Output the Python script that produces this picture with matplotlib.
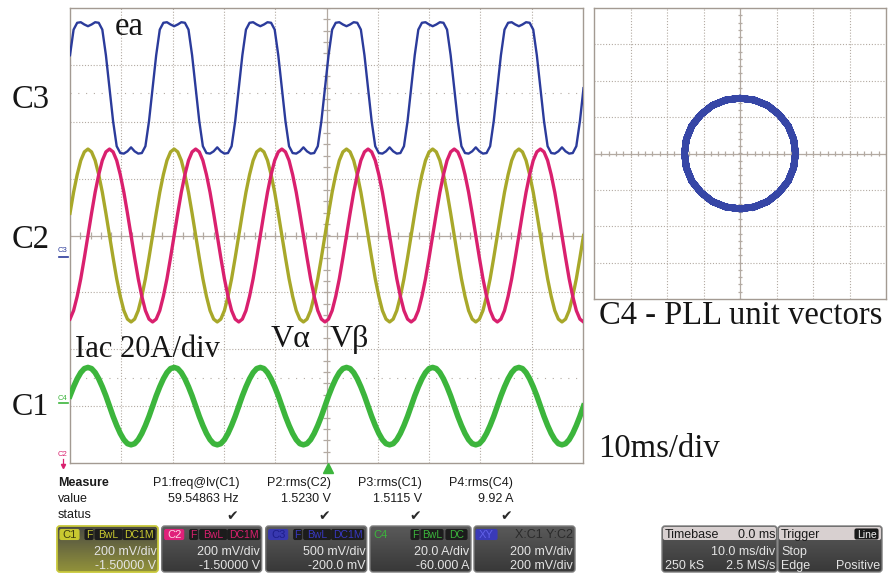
import numpy as np
import matplotlib
matplotlib.use("Agg")
import matplotlib.pyplot as plt
from matplotlib.patches import FancyBboxPatch
from matplotlib.colors import LinearSegmentedColormap

# ---------------- data (screen divisions, sampled every 0.7 ms) ----------------
SAMPLE_MS = 0.7
ea_div = [
    3.17, 3.62, 3.74, 3.75, 3.71, 3.68, 3.71, 3.75, 3.74, 3.62, 3.17, 2.59, 2.01, 1.57, 1.45, 1.44, 1.48, 1.55, 1.48, 1.44, 1.45, 1.57, 2.01, 2.59,
    3.17, 3.62, 3.74, 3.75, 3.71, 3.68, 3.71, 3.75, 3.74, 3.62, 3.17, 2.59, 2.01, 1.57, 1.45, 1.44, 1.48, 1.55, 1.48, 1.44, 1.45, 1.57, 2.01, 2.59,
    3.17, 3.62, 3.74, 3.75, 3.71, 3.68, 3.71, 3.75, 3.74, 3.62, 3.17, 2.59, 2.01, 1.57, 1.45, 1.44, 1.48, 1.55, 1.48, 1.44, 1.45, 1.57, 2.01, 2.59,
    3.17, 3.62, 3.74, 3.75, 3.71, 3.68, 3.71, 3.75, 3.74, 3.62, 3.17, 2.59, 2.01, 1.57, 1.45, 1.44, 1.48, 1.55, 1.48, 1.44, 1.45, 1.57, 2.01, 2.59,
    3.17, 3.62, 3.74, 3.75, 3.71, 3.68, 3.71, 3.75, 3.74, 3.62, 3.17, 2.59, 2.01, 1.57, 1.45, 1.44, 1.48, 1.55, 1.48, 1.44, 1.45, 1.57, 2.01, 2.59,
    3.17, 3.62, 3.74, 3.75, 3.71, 3.68, 3.71, 3.75, 3.74, 3.62, 3.17, 2.59, 2.01, 1.57, 1.45, 1.44, 1.48, 1.55, 1.48, 1.44, 1.45, 1.57, 2.01, 2.59,
]
valpha_div = [
    0.39, 0.76, 1.07, 1.32, 1.47, 1.52, 1.47, 1.32, 1.07, 0.76, 0.39, 0.00, -0.39, -0.76, -1.07, -1.32, -1.47, -1.52, -1.47, -1.32, -1.07, -0.76, -0.39, 0.00,
    0.39, 0.76, 1.07, 1.32, 1.47, 1.52, 1.47, 1.32, 1.07, 0.76, 0.39, 0.00, -0.39, -0.76, -1.07, -1.32, -1.47, -1.52, -1.47, -1.32, -1.07, -0.76, -0.39, 0.00,
    0.39, 0.76, 1.07, 1.32, 1.47, 1.52, 1.47, 1.32, 1.07, 0.76, 0.39, 0.00, -0.39, -0.76, -1.07, -1.32, -1.47, -1.52, -1.47, -1.32, -1.07, -0.76, -0.39, 0.00,
    0.39, 0.76, 1.07, 1.32, 1.47, 1.52, 1.47, 1.32, 1.07, 0.76, 0.39, 0.00, -0.39, -0.76, -1.07, -1.32, -1.47, -1.52, -1.47, -1.32, -1.07, -0.76, -0.39, 0.00,
    0.39, 0.76, 1.07, 1.32, 1.47, 1.52, 1.47, 1.32, 1.07, 0.76, 0.39, 0.00, -0.39, -0.76, -1.07, -1.32, -1.47, -1.52, -1.47, -1.32, -1.07, -0.76, -0.39, 0.00,
    0.39, 0.76, 1.07, 1.32, 1.47, 1.52, 1.47, 1.32, 1.07, 0.76, 0.39, 0.00, -0.39, -0.76, -1.07, -1.32, -1.47, -1.52, -1.47, -1.32, -1.07, -0.76, -0.39, 0.00,
]
vbeta_div = [
    -1.47, -1.32, -1.07, -0.76, -0.39, 0.00, 0.39, 0.76, 1.07, 1.32, 1.47, 1.52, 1.47, 1.32, 1.07, 0.76, 0.39, 0.00, -0.39, -0.76, -1.07, -1.32, -1.47, -1.52,
    -1.47, -1.32, -1.07, -0.76, -0.39, 0.00, 0.39, 0.76, 1.07, 1.32, 1.47, 1.52, 1.47, 1.32, 1.07, 0.76, 0.39, 0.00, -0.39, -0.76, -1.07, -1.32, -1.47, -1.52,
    -1.47, -1.32, -1.07, -0.76, -0.39, 0.00, 0.39, 0.76, 1.07, 1.32, 1.47, 1.52, 1.47, 1.32, 1.07, 0.76, 0.39, 0.00, -0.39, -0.76, -1.07, -1.32, -1.47, -1.52,
    -1.47, -1.32, -1.07, -0.76, -0.39, 0.00, 0.39, 0.76, 1.07, 1.32, 1.47, 1.52, 1.47, 1.32, 1.07, 0.76, 0.39, 0.00, -0.39, -0.76, -1.07, -1.32, -1.47, -1.52,
    -1.47, -1.32, -1.07, -0.76, -0.39, 0.00, 0.39, 0.76, 1.07, 1.32, 1.47, 1.52, 1.47, 1.32, 1.07, 0.76, 0.39, 0.00, -0.39, -0.76, -1.07, -1.32, -1.47, -1.52,
    -1.47, -1.32, -1.07, -0.76, -0.39, 0.00, 0.39, 0.76, 1.07, 1.32, 1.47, 1.52, 1.47, 1.32, 1.07, 0.76, 0.39, 0.00, -0.39, -0.76, -1.07, -1.32, -1.47, -1.52,
]
iac_div = [
    -2.82, -2.66, -2.52, -2.41, -2.34, -2.32, -2.34, -2.41, -2.52, -2.66, -2.82, -3.00, -3.18, -3.34, -3.48, -3.59, -3.66, -3.68, -3.66, -3.59, -3.48, -3.34, -3.18, -3.00,
    -2.82, -2.66, -2.52, -2.41, -2.34, -2.32, -2.34, -2.41, -2.52, -2.66, -2.82, -3.00, -3.18, -3.34, -3.48, -3.59, -3.66, -3.68, -3.66, -3.59, -3.48, -3.34, -3.18, -3.00,
    -2.82, -2.66, -2.52, -2.41, -2.34, -2.32, -2.34, -2.41, -2.52, -2.66, -2.82, -3.00, -3.18, -3.34, -3.48, -3.59, -3.66, -3.68, -3.66, -3.59, -3.48, -3.34, -3.18, -3.00,
    -2.82, -2.66, -2.52, -2.41, -2.34, -2.32, -2.34, -2.41, -2.52, -2.66, -2.82, -3.00, -3.18, -3.34, -3.48, -3.59, -3.66, -3.68, -3.66, -3.59, -3.48, -3.34, -3.18, -3.00,
    -2.82, -2.66, -2.52, -2.41, -2.34, -2.32, -2.34, -2.41, -2.52, -2.66, -2.82, -3.00, -3.18, -3.34, -3.48, -3.59, -3.66, -3.68, -3.66, -3.59, -3.48, -3.34, -3.18, -3.00,
    -2.82, -2.66, -2.52, -2.41, -2.34, -2.32, -2.34, -2.41, -2.52, -2.66, -2.82, -3.00, -3.18, -3.34, -3.48, -3.59, -3.66, -3.68, -3.66, -3.59, -3.48, -3.34, -3.18, -3.00,
]

meas_names = ["P1:freq@lv(C1)", "P2:rms(C2)", "P3:rms(C1)", "P4:rms(C4)"]
meas_values = ["59.54863 Hz", "1.5230 V", "1.5115 V", "9.92 A"]
chan_scale = ["200 mV/div", "200 mV/div", "500 mV/div", "20.0 A/div"]
chan_offset = ["-1.50000 V", "-1.50000 V", "-200.0 mV", "-60.000 A"]
xy_rows = ["X:C1 Y:C2", "200 mV/div", "200 mV/div"]
timebase_rows = ["0.0 ms", "10.0 ms/div", "250 kS", "2.5 MS/s"]
trigger_rows = ["Line", "Stop", "Edge", "Positive"]

# ---------------- styling ----------------
W, H = 893, 574
BLUE = "#2b3b9b"
YEL = "#a8a82a"
MAG = "#d9206e"
GRN = "#3cb53c"
RING = "#3646a6"
GRID = "#b3aaa2"
FRAME = "#a39a92"
SERIF = "Liberation Serif"
SANS = "Liberation Sans"
INK = "#161616"

fig = plt.figure(figsize=(W / 100, H / 100), dpi=100)
fig.patch.set_facecolor("white")


def px_axes(x0, y0, x1, y1):
    return fig.add_axes([x0 / W, 1 - y1 / H, (x1 - x0) / W, (y1 - y0) / H])


def scope_grid(ax, nx, ny, xdiv, ydiv, xmid, ymid):
    ax.set_xticks([])
    ax.set_yticks([])
    for s in ax.spines.values():
        s.set_color(FRAME)
        s.set_linewidth(1.0)
    dot = (0, (1, 1.6))
    for i in range(1, nx):
        x = i * xdiv + ax.get_xlim()[0]
        if abs(x - xmid) > 1e-9:
            ax.axvline(x, color=GRID, lw=0.8, ls=dot, zorder=0)
    for j in range(1, ny):
        y = j * ydiv + ax.get_ylim()[0]
        if abs(y - ymid) > 1e-9:
            ax.axhline(y, color=GRID, lw=0.8, ls=dot, zorder=0)
    ax.axvline(xmid, color=GRID, lw=0.9, zorder=0)
    ax.axhline(ymid, color=GRID, lw=0.9, zorder=0)
    x0, x1 = ax.get_xlim()
    y0, y1 = ax.get_ylim()
    tx = np.arange(x0, x1 + 1e-9, xdiv / 5)
    ty = np.arange(y0, y1 + 1e-9, ydiv / 5)
    ax.vlines(tx, ymid - 0.06 * ydiv, ymid + 0.06 * ydiv, color=GRID, lw=0.9, zorder=0)
    ax.hlines(ty, xmid - 0.06 * xdiv, xmid + 0.06 * xdiv, color=GRID, lw=0.9, zorder=0)


# ---------------- main time-domain display ----------------
ax = px_axes(70, 8, 583, 463)
ax.set_xlim(0, 100)
ax.set_ylim(-4, 4)
scope_grid(ax, 10, 8, 10, 1, 50, 0)
ax.axhline(2.5, color=GRID, lw=0.8, ls=(0, (1, 6)), zorder=0)
ax.axhline(-2.5, color=GRID, lw=0.8, ls=(0, (1, 6)), zorder=0)

t_ms = np.arange(len(ea_div)) * SAMPLE_MS
ax.plot(t_ms, ea_div, color=BLUE, lw=1.7, zorder=3, solid_joinstyle="round")
ax.plot(t_ms, valpha_div, color=YEL, lw=2.4, zorder=3, solid_joinstyle="round")
ax.plot(t_ms, vbeta_div, color=MAG, lw=2.4, zorder=3, solid_joinstyle="round")
ax.plot(t_ms, iac_div, color=GRN, lw=4.0, zorder=3, solid_joinstyle="round")

# ---------------- XY display ----------------
axy = px_axes(594, 8, 886, 299)
axy.set_xlim(-4, 4)
axy.set_ylim(-4, 4)
scope_grid(axy, 8, 8, 1, 1, 0, 0)
axy.plot(valpha_div, vbeta_div, color=RING, lw=4.8, zorder=3, solid_joinstyle="round")

# ---------------- overlay (pixel coordinates) ----------------
ov = fig.add_axes([0, 0, 1, 1])
ov.set_xlim(0, W)
ov.set_ylim(H, 0)
ov.axis("off")


def T(x, y, s, size, family=SERIF, color=INK, ha="left", va="baseline", **kw):
    ov.text(x, y, s, fontsize=size, family=family, color=color, ha=ha, va=va, **kw)


# annotation labels
T(12, 108, "C3", 23.5)
T(12, 248, "C2", 23.5)
T(12, 415, "C1", 23)
T(115, 35, "ea", 23.5)
T(75, 357, "Iac 20A/div", 22)
T(271, 347, "V\u03b1", 23)
T(330, 347, "V\u03b2", 23)
T(599, 324, "C4 - PLL unit vectors", 23.5)
T(598, 457, "10ms/div", 23.5)

# channel level markers on the left edge
T(63, 250, "C3", 5.5, family=SANS, color=BLUE, ha="center", va="center")
ov.plot([59, 68], [257, 257], color=BLUE, lw=1.2)
T(63, 398, "C4", 5.5, family=SANS, color=GRN, ha="center", va="center")
ov.plot([59, 68], [403, 403], color=GRN, lw=1.2)
T(63, 455, "C2", 5.5, family=SANS, color=MAG, ha="center", va="center")
ov.plot([63, 63], [459, 465], color=MAG, lw=0.9)
ov.plot([63], [466], marker="v", color=MAG, ms=3)
ov.plot([328], [468], marker="^", color=GRN, ms=7, mec=GRN)

# measurement table
T(58, 486, "Measure", 9, family=SANS, color="#1a1a1a", weight="bold")
T(58, 502, "value", 9, family=SANS, color="#1a1a1a")
T(58, 518, "status", 9, family=SANS, color="#1a1a1a")
col_right = [239, 331, 422, 513]
for xr, nm, vl in zip(col_right, meas_names, meas_values):
    T(xr, 486, nm, 9, family=SANS, color="#1a1a1a", ha="right")
    T(xr, 502, vl, 9, family=SANS, color="#1a1a1a", ha="right")
    T(xr - 7, 520, "\u2714", 10, family="DejaVu Sans", color="#2a2a2a", ha="center")


def grad_box(x0, x1, top, bottom, ec, y0=526, y1=572, lw=1.0):
    patch = FancyBboxPatch((x0, y0), x1 - x0, y1 - y0,
                           boxstyle="round,pad=0,rounding_size=3",
                           fc="none", ec=ec, lw=lw, zorder=2)
    ov.add_patch(patch)
    cm = LinearSegmentedColormap.from_list("g", [top, bottom])
    g = np.linspace(0, 1, 64).reshape(-1, 1)
    im = ov.imshow(g, cmap=cm, extent=(x0, x1, y1, y0), origin="upper",
                   aspect="auto", zorder=1, interpolation="bilinear")
    im.set_clip_path(patch)


def chip(x0, x1, s, fc, tc, ec=None, y0=529.5, y1=539.5, size=7.5):
    p = FancyBboxPatch((x0, y0), x1 - x0, y1 - y0,
                       boxstyle="round,pad=0,rounding_size=1.5",
                       fc=fc, ec=ec if ec else fc, lw=0.8, zorder=3)
    ov.add_patch(p)
    ov.text((x0 + x1) / 2, (y0 + y1) / 2 + 0.5, s, fontsize=size, family=SANS,
            color=tc, ha="center", va="center", zorder=4)


TXT = "#e4e4e4"
boxes = [(57, 158), (161.7, 261.7), (265.7, 366.7), (370, 471)]
chip_cols = [("#c8c830", "#3c3c10", "#c8c830"),
             ("#e0207a", "#ffd2e4", MAG),
             ("#3838b0", "#1e1e8a", "#3838c0"),
             (None, GRN, GRN)]
labels = ["C1", "C2", "C3", "C4"]
for i, (x0, x1) in enumerate(boxes):
    if i == 0:
        grad_box(x0, x1, "#4c4c44", "#92923a", "#c8c83a", lw=1.3)
    else:
        grad_box(x0, x1, "#5a5a5a", "#383838", "#7c7c7c")
    fc, tc, cc = chip_cols[i]
    if fc is None:
        T(x0 + 11, 537.5, labels[i], 8, family=SANS, color=tc, ha="center")
        chip(x0 + 41, x0 + 49, "F", "#1c1c1c", cc)
        chip(x0 + 51, x0 + 73, "BwL", "#1c1c1c", cc)
        chip(x0 + 76, x0 + 97, "DC", "#1c1c1c", cc)
    else:
        chip(x0 + 3, x0 + 22, labels[i], fc, tc, size=8)
        chip(x0 + 28, x0 + 36, "F", "#1c1c1c", cc)
        chip(x0 + 38, x0 + 65, "BwL", "#1c1c1c", cc)
        chip(x0 + 66, x0 + 98, "DC1M", "#1c1c1c", cc)
    T(x1 - 1.5, 555, chan_scale[i], 9, family=SANS, color=TXT, ha="right")
    T(x1 - 1.5, 569, chan_offset[i], 9, family=SANS, color=TXT, ha="right")

# XY box
grad_box(474, 575, "#5a5a5a", "#383838", "#7c7c7c")
chip(476, 497, "XY", "#3a3ab8", "#6060e8", size=8)
T(573, 538, xy_rows[0], 9, family=SANS, color="#2a2a2a", ha="right")
T(573, 555, xy_rows[1], 9, family=SANS, color=TXT, ha="right")
T(573, 569, xy_rows[2], 9, family=SANS, color=TXT, ha="right")

# timebase box
grad_box(662, 777, "#5a5a5a", "#383838", "#7c7c7c")
ov.add_patch(FancyBboxPatch((663, 527), 113, 13, boxstyle="round,pad=0,rounding_size=2",
                            fc="#d8d0d0", ec="none", zorder=2.5))
T(665, 538, "Timebase", 9, family=SANS, color="#1a1a1a")
T(775, 538, timebase_rows[0], 9, family=SANS, color="#1a1a1a", ha="right")
T(775, 555, timebase_rows[1], 9, family=SANS, color=TXT, ha="right")
T(665, 569, timebase_rows[2], 9, family=SANS, color=TXT)
T(775, 569, timebase_rows[3], 9, family=SANS, color=TXT, ha="right")

# trigger box
grad_box(778, 882, "#5a5a5a", "#383838", "#7c7c7c")
ov.add_patch(FancyBboxPatch((779, 527), 102, 13, boxstyle="round,pad=0,rounding_size=2",
                            fc="#d8d0d0", ec="none", zorder=2.5))
T(781, 538, "Trigger", 9, family=SANS, color="#1a1a1a")
chip(855, 878, trigger_rows[0], "#1a1a1a", "#f0f0f0", y0=529, y1=539, size=7.5)
T(781, 555, trigger_rows[1], 9, family=SANS, color=TXT)
T(781, 569, trigger_rows[2], 9, family=SANS, color=TXT)
T(880, 569, trigger_rows[3], 9, family=SANS, color=TXT, ha="right")

ov.set_xlim(0, W)
ov.set_ylim(H, 0)

fig.savefig("out.png", dpi=100, facecolor="white")
